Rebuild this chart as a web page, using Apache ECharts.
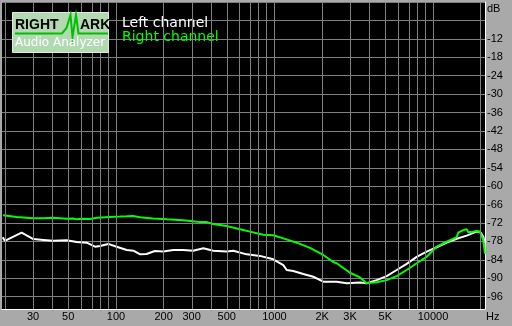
<!DOCTYPE html>
<html><head><meta charset="utf-8">
<script src="https://cdn.jsdelivr.net/npm/echarts@6/dist/echarts.min.js"></script>
<style>html,body{margin:0;padding:0;background:#a9a9a9}#c{width:512px;height:326px}</style>
</head><body><div id="c"></div>
<script>
// ---- data ----
const seriesNames = ['Left channel', 'Right channel'];

const leftFreq = [19.3, 19.9, 25.4, 30.1, 34.8, 40.2, 48.9, 56.5, 65.4, 73.8, 79.3, 89.5, 101, 117, 129, 142, 156, 176, 199, 230, 266, 307, 356, 411, 499, 550, 668, 810, 983, 1137, 1195, 1315, 1520, 1758, 2033, 2470, 2856, 3465, 3818, 4416, 5106, 5905, 6826, 7895, 9129, 10556, 12207, 14113, 16325, 18874, 19803, 20777, 21288];
const leftDb = [-76.6, -77.8, -75.1, -77.2, -77.5, -77.8, -77.6, -78.2, -78.4, -79.7, -79.5, -78.8, -79.7, -80.8, -81.0, -82.2, -82.1, -81.1, -81.3, -80.8, -80.8, -81.0, -80.2, -81.0, -81.3, -81.0, -82.2, -82.7, -83.8, -85.7, -87.3, -87.6, -88.6, -89.5, -91.1, -91.1, -91.6, -91.4, -91.6, -90.6, -89.3, -87.3, -85.3, -83.0, -81.3, -79.9, -78.4, -77.1, -76.1, -74.8, -74.8, -76.5, -78.6];

const rightFreq = [19.4, 23.6, 30.1, 34.8, 40.2, 48.9, 53.6, 56.5, 62.2, 68.6, 75.6, 91.7, 106, 117, 128, 142, 171, 210, 265, 306, 339, 375, 409, 502, 606, 701, 850, 983, 1137, 1381, 1676, 2033, 2350, 2470, 2996, 3465, 3818, 4416, 5106, 5905, 6826, 7895, 9129, 10556, 12207, 14113, 14446, 15537, 16325, 16709, 17967, 18874, 19803, 20777, 21288];
const rightDb = [-69.5, -70.0, -70.4, -70.4, -70.3, -70.6, -70.5, -70.8, -70.6, -70.7, -70.3, -70.0, -69.9, -69.8, -69.7, -70.1, -70.5, -70.8, -71.1, -71.4, -71.7, -71.7, -72.3, -73.0, -74.0, -74.8, -75.8, -76.0, -77.0, -78.4, -80.1, -82.4, -84.7, -85.1, -88.2, -89.7, -91.6, -91.3, -90.6, -89.3, -87.3, -85.1, -83.0, -79.7, -78.1, -76.6, -75.1, -74.3, -74.0, -75.0, -74.8, -74.5, -74.9, -77.5, -82.0];

const xTickFreqs = [30, 50, 100, 200, 300, 500, 1000, 2000, 3000, 5000, 10000];
const xTickLabels = ['30', '50', '100', '200', '300', '500', '1000', '2K', '3K', '5K', '10000'];
const gridFreqs = [20,30,40,50,60,70,80,90,100,200,300,400,500,600,700,800,900,1000,2000,3000,4000,5000,6000,7000,8000,9000,10000,20000];
const xMinHz = 19.1, xMaxHz = 21300;
const yTop = 0, yBottom = 100, yStep = 6; // attenuation in dB (shown as negative)

// ---- build ----
const lg = Math.log10;
const toPts = (f, d) => f.map((v, i) => [lg(v), -d[i]]);
function tickText(v) {
  let best = 0, bd = 1e9;
  xTickFreqs.forEach((f, i) => { const dd = Math.abs(lg(f) - v); if (dd < bd) { bd = dd; best = i; } });
  return xTickLabels[best];
}
const gridColor = '#808080';
const chart = echarts.init(document.getElementById('c'), null, {renderer: 'canvas'});
chart.setOption({
  animation: false,
  backgroundColor: '#a9a9a9',
  grid: {left: 2, top: 2, right: 27, bottom: 17, show: true, backgroundColor: '#000', borderWidth: 0},
  xAxis: {
    type: 'value', min: lg(xMinHz), max: lg(xMaxHz),
    axisLine: {show: true, onZero: false, lineStyle: {color: '#fff', width: 1}},
    axisTick: {show: false},
    splitLine: {show: false},
    axisLabel: {
      customValues: xTickFreqs.map(lg), formatter: tickText,
      color: '#000', fontFamily: 'Liberation Sans', fontSize: 11, margin: 2
    }
  },
  yAxis: {
    type: 'value', position: 'right', inverse: true, min: yTop, max: yBottom, interval: yStep,
    axisLine: {show: true, onZero: false, lineStyle: {color: '#fff', width: 1}},
    axisTick: {show: false},
    splitLine: {show: true, lineStyle: {color: gridColor, width: 1}},
    axisLabel: {
      formatter: v => (v <= 6 || v >= 100) ? '' : '-' + v,
      color: '#000', fontFamily: 'Liberation Sans', fontSize: 11, margin: 2
    }
  },
  legend: {
    orient: 'vertical', left: 112, top: 11, itemGap: 0, itemWidth: 0, itemHeight: 14,
    icon: 'none', selectedMode: false,
    textStyle: {fontFamily: 'DejaVu Sans', fontSize: 14, overflow: 'none'},
    data: [
      {name: seriesNames[0], textStyle: {color: '#ffffff'}},
      {name: seriesNames[1], textStyle: {color: '#00ff00'}}
    ]
  },
  series: [
    {
      name: 'grid', type: 'line', data: [], z: 1, silent: true,
      markLine: {
        silent: true, symbol: ['none', 'none'], label: {show: false},
        lineStyle: {color: gridColor, width: 1, type: 'solid'},
        emphasis: {disabled: true},
        data: [xMinHz].concat(gridFreqs).map(f => ({xAxis: lg(f)}))
      }
    },
    {
      name: seriesNames[0], type: 'line', data: toPts(leftFreq, leftDb), z: 3,
      showSymbol: false, symbol: 'none', lineStyle: {color: '#ffffff', width: 2}, itemStyle: {color: '#ffffff'}
    },
    {
      name: seriesNames[1], type: 'line', data: toPts(rightFreq, rightDb), z: 4,
      showSymbol: false, symbol: 'none', lineStyle: {color: '#00ff00', width: 2}, itemStyle: {color: '#00ff00'}
    }
  ],
  graphic: [
    {type: 'text', left: 487, top: 3, style: {text: 'dB', fill: '#000', font: '11px "Liberation Sans"'}},
    {type: 'text', left: 486, top: 311, style: {text: 'Hz', fill: '#000', font: '11px "Liberation Sans"'}},
    {type: 'rect', shape: {x: 12.5, y: 12.5, width: 96, height: 40}, style: {fill: '#b3d9b3', stroke: '#e6e6e6', lineWidth: 1}, z: 10},
    {type: 'polyline', shape: {points: [[15, 33.5], [62, 33.5], [66.5, 28], [70.5, 15], [72.5, 37], [76, 15], [78.5, 33.5], [108, 33.5]]}, style: {stroke: '#00c000', lineWidth: 2, fill: null}, z: 11},
    {type: 'text', x: 15, y: 18, style: {text: 'RIGHT', fill: '#000', font: 'bold 14px "Liberation Sans"'}, z: 12},
    {type: 'text', x: 80, y: 18, style: {text: 'ARK', fill: '#000', font: 'bold 14px "Liberation Sans"'}, z: 12},
    {type: 'text', x: 15, y: 37, style: {text: 'Audio Analyzer', fill: '#fff', font: '12px "DejaVu Sans"', textShadowColor: '#6a7a6a', textShadowOffsetX: 1, textShadowOffsetY: 1, textShadowBlur: 0}, z: 12}
  ]
});
</script>
</body></html>
